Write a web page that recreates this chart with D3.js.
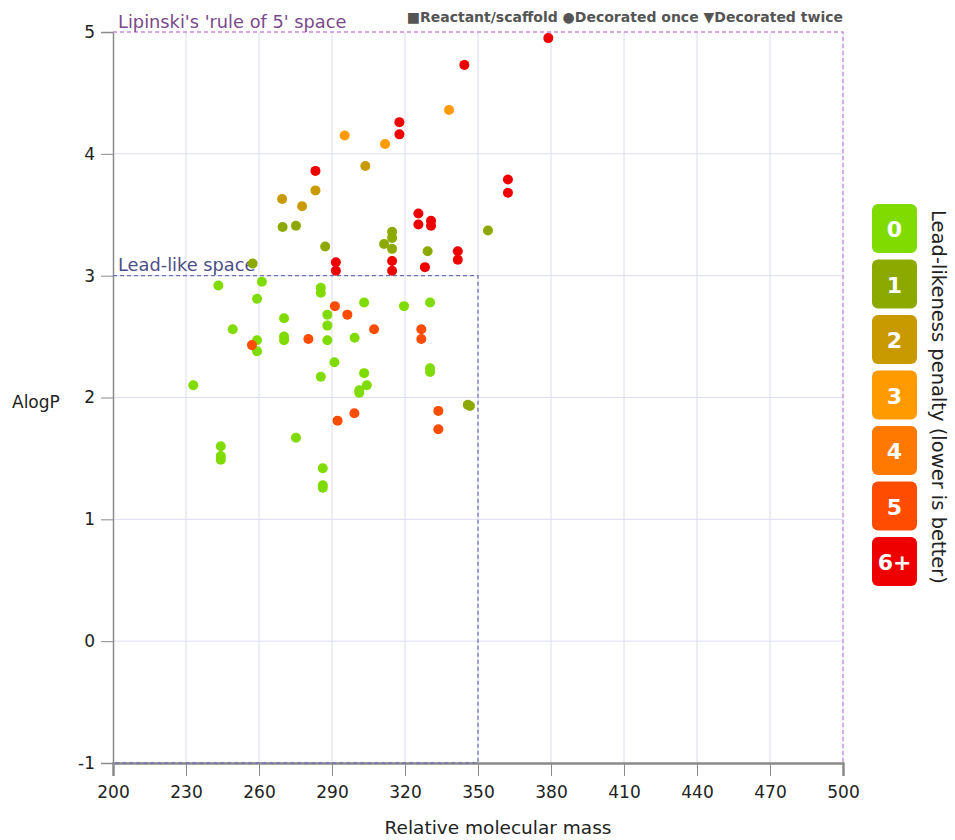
<!DOCTYPE html>
<html>
<head>
<meta charset="utf-8">
<script src="https://cdn.jsdelivr.net/npm/d3@7"></script>
<style>
  body { margin: 0; background: #fff; font-family: "DejaVu Sans", Verdana, sans-serif; }
  .axis path, .axis line { stroke: #8a8a8a; }
  .axis text { font-family: "DejaVu Sans", sans-serif; fill: #222; }
</style>
</head>
<body>
<div class="chart"></div>
<script>
// molecular mass / AlogP / lead-likeness penalty for each compound
var mass = [
  233.0, 243.3, 244.3, 244.3, 244.3, 249.2, 259.2, 259.2, 259.2, 261.2, 270.3, 270.3, 270.3, 275.2,
  285.4, 285.4, 285.4, 286.2, 286.2, 286.2, 288.1, 288.1, 288.1, 291.0, 299.3, 303.2, 303.2, 304.3,
  301.2, 301.2, 319.6, 330.3, 330.3, 330.3,
  257.4, 269.7, 275.2, 287.2, 311.4, 314.7, 314.7, 314.7, 329.3, 354.1, 345.8, 346.7,
  269.5, 277.7, 283.2, 303.7,
  295.2, 338.1, 311.8,
  257.1, 280.3, 291.2, 296.3, 307.3, 326.7, 326.7, 292.3, 299.2, 333.7, 333.7,
  378.9, 344.4, 317.7, 317.7, 283.2, 362.3, 362.3, 325.5, 325.5, 330.7, 330.7, 341.7, 341.7, 328.2,
  291.6, 291.6, 314.7, 314.7
];
var alogp = [
  2.10, 2.92, 1.60, 1.52, 1.49, 2.56, 2.81, 2.47, 2.38, 2.95, 2.65, 2.50, 2.47, 1.67,
  2.90, 2.86, 2.17, 1.42, 1.28, 1.26, 2.68, 2.59, 2.47, 2.29, 2.49, 2.78, 2.20, 2.10,
  2.06, 2.04, 2.75, 2.78, 2.24, 2.21,
  3.10, 3.40, 3.41, 3.24, 3.26, 3.36, 3.31, 3.22, 3.20, 3.37, 1.94, 1.93,
  3.63, 3.57, 3.70, 3.90,
  4.15, 4.36, 4.08,
  2.43, 2.48, 2.75, 2.68, 2.56, 2.56, 2.48, 1.81, 1.87, 1.89, 1.74,
  4.95, 4.73, 4.26, 4.16, 3.86, 3.79, 3.68, 3.51, 3.42, 3.45, 3.41, 3.20, 3.13, 3.07,
  3.11, 3.04, 3.12, 3.04
];
var penalty = [
  0, 0, 0, 0, 0, 0, 0, 0, 0, 0, 0, 0, 0, 0,
  0, 0, 0, 0, 0, 0, 0, 0, 0, 0, 0, 0, 0, 0,
  0, 0, 0, 0, 0, 0,
  1, 1, 1, 1, 1, 1, 1, 1, 1, 1, 1, 1,
  2, 2, 2, 2,
  3, 3, 3,
  5, 5, 5, 5, 5, 5, 5, 5, 5, 5, 5,
  6, 6, 6, 6, 6, 6, 6, 6, 6, 6, 6, 6, 6, 6,
  6, 6, 6, 6
];

var penaltyLabels = ["0", "1", "2", "3", "4", "5", "6+"];
var penaltyColors = ["#80dc00", "#8ca900", "#c99a00", "#ff9a00", "#ff7800", "#ff4c00", "#ee0000"];
var xTicks = [200, 230, 260, 290, 320, 350, 380, 410, 440, 470, 500];
var yTicks = [-1, 0, 1, 2, 3, 4, 5];
var leadLike = { mass: 350, alogp: 3 };
var lipinski = { mass: 500, alogp: 5 };
var shapeLegend = "\u25A0Reactant/scaffold \u25CFDecorated once \u25BCDecorated twice";

var svgWidth = 955;
var svgHeight = 840;

var margin = { top: 32, right: 112, bottom: 77, left: 113 };
var width = svgWidth - margin.left - margin.right;
var height = svgHeight - margin.top - margin.bottom;

var svg = d3.select(".chart")
  .append("svg")
  .attr("width", svgWidth)
  .attr("height", svgHeight);

var chartGroup = svg.append("g")
  .attr("transform", `translate(${margin.left}, ${margin.top})`);

var xScale = d3.scaleLinear().domain([200, 500]).range([0, width]);
var yScale = d3.scaleLinear().domain([-1, 5]).range([height, 0]);

var data = mass.map(function(m, i) {
  return { mass: m, alogp: alogp[i], penalty: penalty[i] };
});

// grid
chartGroup.append("g")
  .selectAll("line")
  .data(xTicks.slice(1))
  .enter()
  .append("line")
  .attr("x1", d => xScale(d))
  .attr("x2", d => xScale(d))
  .attr("y1", 0)
  .attr("y2", height)
  .attr("stroke", "#dcdcf2")
  .attr("stroke-width", 1);

chartGroup.append("g")
  .selectAll("line")
  .data(yTicks.slice(1, -1))
  .enter()
  .append("line")
  .attr("x1", 0)
  .attr("x2", width)
  .attr("y1", d => yScale(d))
  .attr("y2", d => yScale(d))
  .attr("stroke", "#dcdcf2")
  .attr("stroke-width", 1);

// axes
var bottomAxis = d3.axisBottom(xScale).tickValues(xTicks).tickSize(13).tickPadding(10);
var leftAxis = d3.axisLeft(yScale).tickValues(yTicks).tickSize(12).tickPadding(6)
  .tickFormat(d => String(d));

var xAxisG = chartGroup.append("g")
  .attr("class", "axis")
  .attr("transform", `translate(0, ${height})`)
  .call(bottomAxis);
xAxisG.select(".domain").attr("stroke", "#a0a0a0").attr("stroke-width", 2.5);
xAxisG.selectAll("text").attr("font-size", 17);

var yAxisG = chartGroup.append("g")
  .attr("class", "axis")
  .call(leftAxis);
yAxisG.select(".domain").attr("stroke-width", 1.5);
yAxisG.selectAll("text").attr("font-size", 17);

// Lipinski and lead-like boxes
chartGroup.append("path")
  .attr("d", `M0,${yScale(lipinski.alogp)}H${xScale(lipinski.mass)}V${height}`)
  .attr("fill", "none")
  .attr("stroke", "#cc88dd")
  .attr("stroke-width", 1.3)
  .attr("stroke-dasharray", "4,3");

chartGroup.append("path")
  .attr("d", `M0,${yScale(leadLike.alogp)}H${xScale(leadLike.mass)}V${height}H0`)
  .attr("fill", "none")
  .attr("stroke", "#7272b4")
  .attr("stroke-width", 1.3)
  .attr("stroke-dasharray", "4,3");

chartGroup.append("text")
  .attr("x", 5)
  .attr("y", yScale(lipinski.alogp) - 4)
  .attr("font-size", 17.8)
  .attr("fill", "#7a4a8c")
  .text("Lipinski's 'rule of 5' space");

chartGroup.append("text")
  .attr("x", 5)
  .attr("y", yScale(leadLike.alogp) - 5)
  .attr("font-size", 17.8)
  .attr("fill", "#4e4e86")
  .text("Lead-like space");

// points
chartGroup.append("g")
  .selectAll("circle")
  .data(data)
  .enter()
  .append("circle")
  .attr("cx", d => xScale(d.mass))
  .attr("cy", d => yScale(d.alogp))
  .attr("r", 5)
  .attr("fill", d => penaltyColors[d.penalty]);

// axis titles
svg.append("text")
  .attr("x", 498)
  .attr("y", 834)
  .attr("text-anchor", "middle")
  .attr("font-size", 18.5)
  .attr("fill", "#222")
  .text("Relative molecular mass");

svg.append("text")
  .attr("x", 12)
  .attr("y", 408)
  .attr("font-size", 17)
  .attr("fill", "#222")
  .text("AlogP");

// marker legend at top
svg.append("text")
  .attr("x", margin.left + width)
  .attr("y", 22)
  .attr("text-anchor", "end")
  .attr("font-size", 14)
  .attr("font-weight", "bold")
  .attr("fill", "#555")
  .text(shapeLegend);

// penalty legend
var legend = svg.append("g")
  .attr("transform", "translate(872, 204)");

var items = legend.selectAll("g")
  .data(penaltyLabels)
  .enter()
  .append("g")
  .attr("transform", (d, i) => `translate(0, ${i * 55.5})`);

items.append("rect")
  .attr("width", 45)
  .attr("height", 49)
  .attr("rx", 6)
  .attr("fill", (d, i) => penaltyColors[i]);

items.append("text")
  .attr("x", 22.5)
  .attr("y", 33)
  .attr("text-anchor", "middle")
  .attr("font-size", 22)
  .attr("font-weight", "bold")
  .attr("fill", "#fff")
  .text(d => d);

svg.append("text")
  .attr("transform", "translate(932, 397) rotate(90)")
  .attr("text-anchor", "middle")
  .attr("font-size", 19.5)
  .attr("fill", "#222")
  .text("Lead-likeness penalty (lower is better)");
</script>
</body>
</html>
